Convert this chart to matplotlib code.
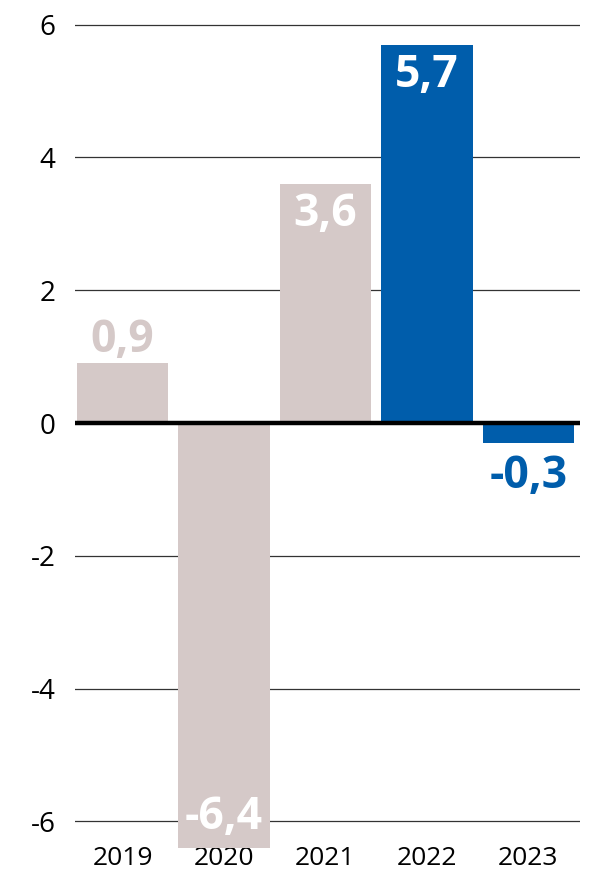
import matplotlib.pyplot as plt

years = ["2019", "2020", "2021", "2022", "2023"]
values = [0.9, -6.4, 3.6, 5.7, -0.3]
grey = "#d5c9c8"
blue = "#005dab"
colors = [grey, grey, grey, blue, blue]

plt.rcParams['font.family'] = ['Open Sans', 'DejaVu Sans']

fig = plt.figure(figsize=(5.9, 8.72), dpi=100)
ax = fig.add_axes([75 / 590, 1 - 850 / 872, 505 / 590, 848 / 872])

x = list(range(len(years)))
ax.bar(x, values, width=0.9, color=colors, zorder=2)

ax.set_xlim(-0.47, 4.51)
ax.set_ylim(-(850 - 423) / 66.4, (423 - 2) / 66.4)

# grid and zero line
for t in [-6, -4, -2, 2, 4, 6]:
    ax.axhline(t, color="#333333", lw=0.9, zorder=1)
ax.axhline(0, color="black", lw=3.2, zorder=3)

ax.set_yticks([-6, -4, -2, 0, 2, 4, 6])
ax.set_yticklabels(["-6", "-4", "-2", "0", "2", "4", "6"], fontsize=20)
ax.set_xticks(x)
ax.set_xticklabels(years, fontsize=19)
ax.tick_params(axis="y", length=0, pad=14)
ax.tick_params(axis="x", length=0, pad=-3)
for s in ax.spines.values():
    s.set_visible(False)

# value labels
fs = 32
for xi, v, c in zip(x, values, colors):
    txt = f"{v:.1f}".replace(".", ",")
    if v == 0.9:
        ax.annotate(txt, (xi, v), xytext=(0, 0), textcoords="offset points",
                    ha="center", va="bottom", color=grey, fontsize=fs, fontweight="bold", zorder=4)
    elif v == -0.3:
        ax.annotate(txt, (xi, v), xytext=(0, -8), textcoords="offset points",
                    ha="center", va="top", color=blue, fontsize=fs, fontweight="bold", zorder=4)
    elif v > 0:
        ax.annotate(txt, (xi, v), xytext=(0, -6), textcoords="offset points",
                    ha="center", va="top", color="white", fontsize=fs, fontweight="bold", zorder=4)
    else:
        ax.annotate(txt, (xi, v), xytext=(0, 6), textcoords="offset points",
                    ha="center", va="bottom", color="white", fontsize=fs, fontweight="bold", zorder=4)

fig.savefig("out.png", dpi=100)
